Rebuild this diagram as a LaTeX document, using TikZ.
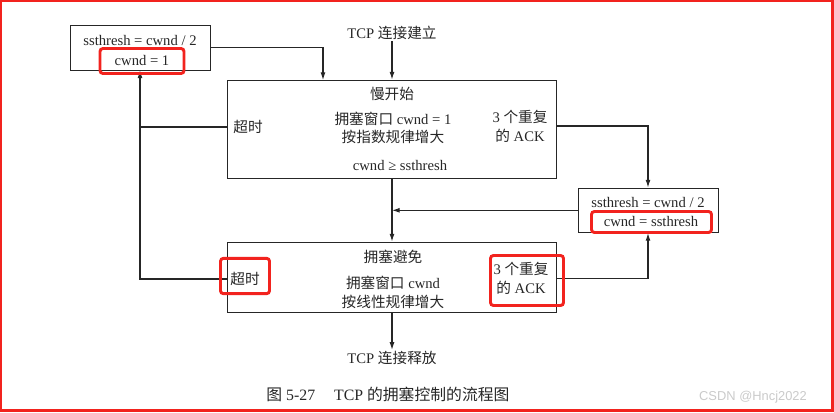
\documentclass[tikz,border=0pt]{standalone}
\usepackage{fontspec}
\setmainfont{Liberation Serif}
\setsansfont{Liberation Sans}
\newfontfamily\cjk{Noto Sans CJK SC}
\usetikzlibrary{arrows.meta}
\definecolor{ink}{HTML}{262626}
\definecolor{redmark}{HTML}{F2231E}
\definecolor{wmark}{HTML}{CACACA}

\begin{document}
\begin{tikzpicture}[x=0.03cm,y=-0.03cm,
  every node/.style={font=\fontsize{12.5}{16}\selectfont,text=ink},
  blk/.style={draw=ink,line width=0.8pt,inner sep=0pt},
  txt/.style={align=center,inner sep=1pt},
  wire/.style={draw=ink,line width=0.9pt},
  flow/.style={wire,-{Latex[length=6.5pt,width=4.2pt]}},
  hl/.style={draw=redmark,line width=2.5pt,rounded corners=2.5pt,inner sep=0pt}]
  \useasboundingbox (0,0) rectangle (834,412);
  \draw[redmark,line width=2.1pt] (1.2,1.2) rectangle (832.6,410.6);

  \node[blk,minimum width=4.2cm,minimum height=1.35cm] (reset) at (140,47.5) {};
  \node[blk,minimum width=9.87cm,minimum height=2.94cm] (ss) at (392,129) {};
  \node[blk,minimum width=4.2cm,minimum height=1.34cm] (fast) at (648,210.3) {};
  \node[blk,minimum width=9.87cm,minimum height=2.12cm] (ca) at (392,277.3) {};

  \node[txt] (resetA) at (140,40) {ssthresh = cwnd / 2};
  \node[txt] (resetB) at (142,60) {cwnd = 1};
  \node[txt] (open) at (392,33) {TCP {\cjk 连接建立}};

  \node[txt] (ssname) at (392,94) {\cjk 慢开始};
  \node[txt] (ssA) at (393,119) {{\cjk 拥塞窗口} cwnd = 1};
  \node[txt] (ssB) at (393,137) {\cjk 按指数规律增大};
  \node[txt] (ssexit) at (400,165) {cwnd ≥ ssthresh};
  \node[txt] (ssto) at (248,127) {\cjk 超时};
  \node[txt] (ssdup) at (520,126) {3 {\cjk 个重复}\\{\cjk 的} ACK};

  \node[txt] (fastA) at (648,202) {ssthresh = cwnd / 2};
  \node[txt] (fastB) at (651,221) {cwnd = ssthresh};

  \node[txt] (caname) at (393,257) {\cjk 拥塞避免};
  \node[txt] (caA) at (393,283) {{\cjk 拥塞窗口} cwnd};
  \node[txt] (caB) at (393,302) {\cjk 按线性规律增大};
  \node[txt] (cato) at (245,279) {\cjk 超时};
  \node[txt] (cadup) at (521,278.5) {3 {\cjk 个重复}\\{\cjk 的} ACK};

  \node[txt] (close) at (392,358) {TCP {\cjk 连接释放}};
  \node[txt,anchor=west,font=\fontsize{13.5}{16}\selectfont] (caption) at (265,394) {{\cjk 图} 5-27\hspace{1.2em}TCP {\cjk 的拥塞控制的流程图}};
  \node[txt,font=\sffamily\fontsize{11}{13}\selectfont,text=wmark] (wm) at (753,397) {CSDN @Hncj2022};

  \coordinate (ssin) at (323,80);
  \draw[flow] (open) -- (open |- ss.north);
  \draw[flow] (reset.east) -| (ssin);
  \draw[flow] (ss.south) -- (ca.north);
  \draw[flow] (ca.south) -- (close);
  \draw[wire] (ss.west |- ssto) -- (reset.south |- ssto);
  \draw[flow] (ca.west |- cato) -| (reset.south);
  \draw[flow] (ss.east |- ssdup) -| (fast.north);
  \draw[flow] (ca.east |- cadup) -| (fast.south);
  \draw[flow] (fast.west) -- (fast.west -| ss.south);

  \node[hl,minimum width=2.52cm,minimum height=0.75cm] (hlA) at (142,61) {};
  \node[hl,minimum width=3.6cm,minimum height=0.63cm] (hlB) at (651.5,222) {};
  \node[hl,minimum width=1.47cm,minimum height=1.06cm] (hlC) at (245,276) {};
  \node[hl,minimum width=2.19cm,minimum height=1.5cm] (hlD) at (527,280.5) {};
\end{tikzpicture}
\end{document}
